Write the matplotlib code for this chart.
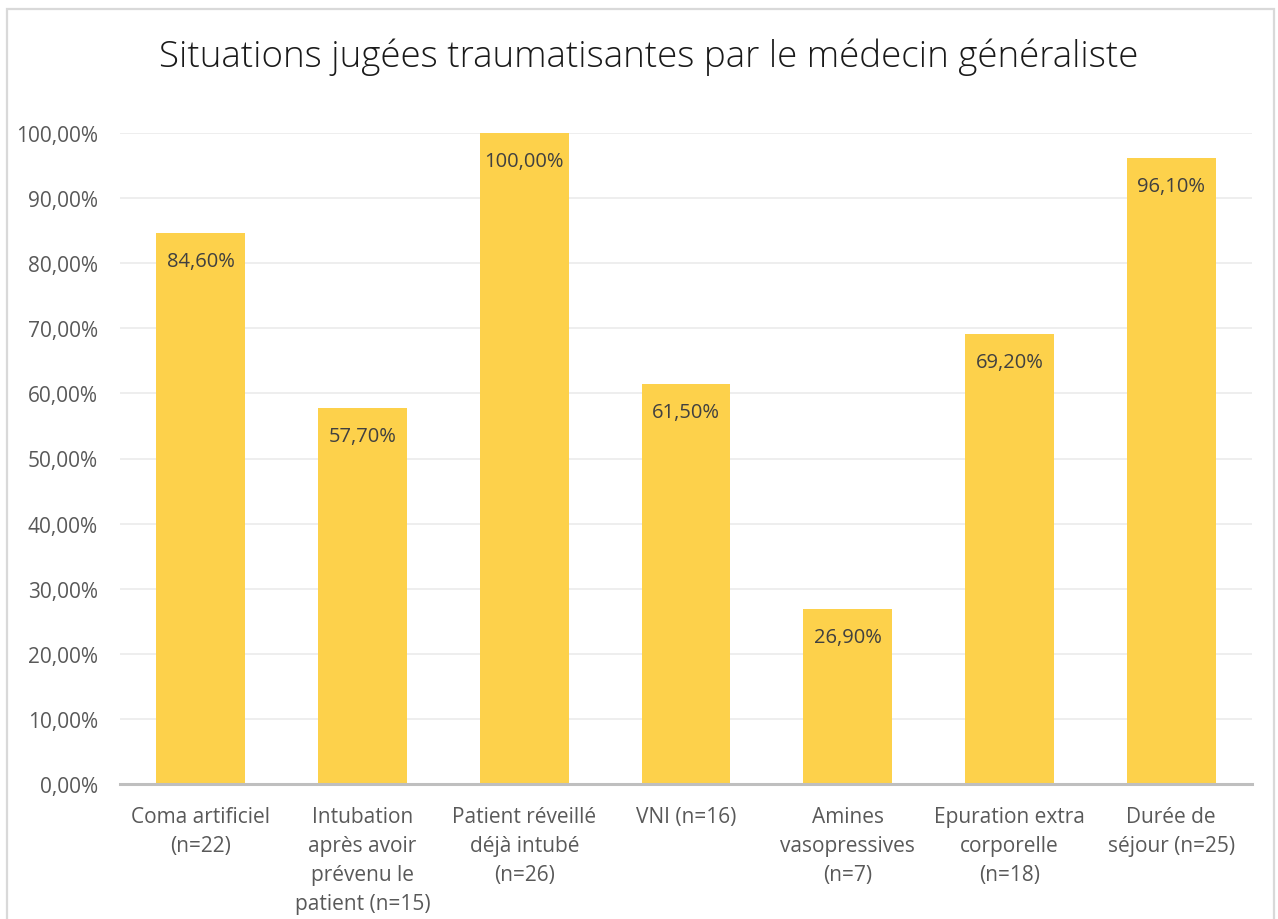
import matplotlib
matplotlib.use("Agg")
import matplotlib.pyplot as plt
from matplotlib.patches import Rectangle
from matplotlib.ticker import FuncFormatter

categories = [
    "Coma artificiel\n(n=22)",
    "Intubation\naprès avoir\nprévenu le\npatient (n=15)",
    "Patient réveillé\ndéjà intubé\n(n=26)",
    "VNI (n=16)",
    "Amines\nvasopressives\n(n=7)",
    "Epuration extra\ncorporelle\n(n=18)",
    "Durée de\nséjour (n=25)",
]
values = [84.6, 57.7, 100.0, 61.5, 26.9, 69.2, 96.1]
y_ticks = [0, 10, 20, 30, 40, 50, 60, 70, 80, 90, 100]
title = "Situations jugées traumatisantes par le médecin généraliste"

plt.rcParams["font.family"] = ["Open Sans", "DejaVu Sans"]
GREY = "#595959"
BAR = "#FDD14B"

fig = plt.figure(figsize=(12.78, 9.2), dpi=100)
W, H = 1278, 920
ax = fig.add_axes([120 / W, 1 - 785 / H, 1132 / W, 651 / H])

x = list(range(len(categories)))
ax.bar(x, values, width=0.55, color=BAR, zorder=2)
for xi, v in zip(x, values):
    ax.annotate(f"{v:.2f}%".replace(".", ","), (xi, v), xytext=(0, -28),
                textcoords="offset pixels", ha="center", va="center",
                fontsize=14.5, color="#404040", zorder=3)

ax.set_xlim(-0.5, len(categories) - 0.5)
ax.set_ylim(0, 100)
ax.set_yticks(y_ticks)
ax.yaxis.set_major_formatter(FuncFormatter(lambda v, _: f"{v:.2f}%".replace(".", ",")))
ax.set_xticks(x)
ax.set_xticklabels(categories, fontsize=15, color=GREY, linespacing=1.5, va="top")
ax.tick_params(axis="y", labelsize=15, labelcolor=GREY, length=0, pad=16)
ax.tick_params(axis="x", length=0, pad=16)
ax.grid(axis="y", color="#EBEBEB", linewidth=1.2, zorder=1)
ax.set_axisbelow(True)
for s in ["top", "right", "left"]:
    ax.spines[s].set_visible(False)
ax.spines["bottom"].set_color("#BFBFBF")
ax.spines["bottom"].set_linewidth(2.2)
ax.spines["bottom"].set_zorder(4)

fig.text(649 / W, 1 - 57 / H, title, ha="center", va="center",
         fontsize=26.5, color="#1a1a1a", fontweight="light")

fig.add_artist(Rectangle((7 / W, -0.02), 1267 / W, 1 - 10 / H + 0.02,
                         transform=fig.transFigure, fill=False,
                         edgecolor="#D9D9D9", linewidth=1.6))

fig.savefig("out.png", dpi=100)
